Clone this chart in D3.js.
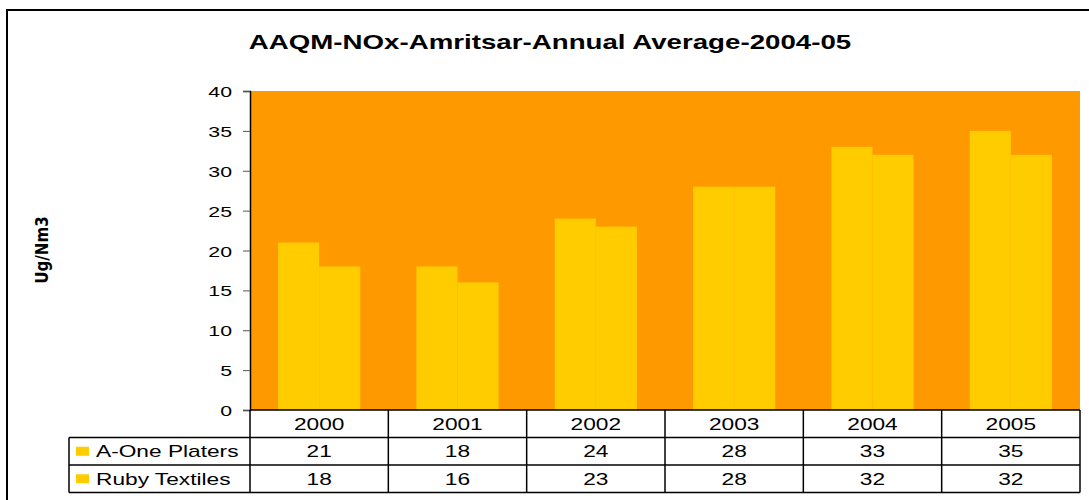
<!DOCTYPE html>
<html>
<head>
<meta charset='UTF-8'>
<title>AAQM-NOx-Amritsar</title>
<script src='https://cdnjs.cloudflare.com/ajax/libs/d3/7.8.5/d3.min.js'></script>
<style>
  body { margin: 0; background: #fff; }
  text { font-family: 'Liberation Sans', Arial, sans-serif; }
</style>
</head>
<body>
<div id='chart'></div>
<script>
var years = ['2000', '2001', '2002', '2003', '2004', '2005'];
var series = ['A-One Platers', 'Ruby Textiles'];
var aOne = [21, 18, 24, 28, 33, 35];
var ruby = [18, 16, 23, 28, 32, 32];
var yTicks = [0, 5, 10, 15, 20, 25, 30, 35, 40];
var values = [aOne, ruby];

var W = 1089, H = 500;
var plot = {left: 250, right: 1080, top: 91, bottom: 410};
var rowH = 27.5;
var labelLeft = 69;
var sx = 1.42; // the original text is drawn wide

// place a text at (x, y), stretched horizontally
function at(x, y) {
  return 'translate(' + x + ',' + y + ') scale(' + sx + ',1)';
}

var svg = d3.select('#chart').append('svg')
    .attr('width', W).attr('height', H);

// outer frame (cut off on the right and bottom)
svg.append('rect')
   .attr('x', 7).attr('y', 10)
   .attr('width', W + 20).attr('height', H + 20)
   .attr('fill', 'none').attr('stroke', '#000').attr('stroke-width', 2);

svg.append('text')
   .attr('transform', at(550, 49))
   .attr('text-anchor', 'middle')
   .style('font-size', '19.5px').style('font-weight', 'bold')
   .text('AAQM-NOx-Amritsar-Annual Average-2004-05');

var x0 = d3.scaleBand().domain(years).range([plot.left, plot.right]).padding(0);
var x1 = d3.scaleBand().domain(series).range([0, x0.bandwidth()])
    .paddingInner(0).paddingOuter(0.683);
var y = d3.scaleLinear().domain([0, 40]).range([plot.bottom, plot.top]);

svg.append('rect')
   .attr('x', plot.left).attr('y', plot.top)
   .attr('width', plot.right - plot.left).attr('height', plot.bottom - plot.top)
   .attr('fill', '#FF9900');

var groups = svg.selectAll('g.year')
    .data(years)
    .enter().append('g')
    .attr('class', 'year')
    .attr('transform', d => 'translate(' + x0(d) + ',0)');

groups.selectAll('rect')
    .data((d, i) => series.map((s, j) => ({s: s, v: values[j][i]})))
    .enter().append('rect')
    .attr('x', d => x1(d.s))
    .attr('y', d => y(d.v))
    .attr('width', x1.bandwidth())
    .attr('height', d => y(0) - y(d.v))
    .attr('fill', '#FFCC00');

var yAxis = svg.append('g')
   .attr('transform', 'translate(' + plot.left + ',0)')
   .call(d3.axisLeft(y).tickValues(yTicks).tickSize(7).tickPadding(0));
yAxis.select('.domain').attr('stroke', '#000').attr('stroke-width', 1.5);
yAxis.selectAll('.tick line').attr('stroke', '#555');
yAxis.selectAll('.tick text')
     .attr('x', null).attr('dy', null)
     .attr('transform', at(-18, 5.5))
     .style('font-size', '15px').style('font-family', "'Liberation Sans', Arial, sans-serif")
     .attr('fill', '#000');

svg.append('text')
   .attr('transform', 'translate(48,250) rotate(-90) scale(1.2,1.3)')
   .attr('text-anchor', 'middle')
   .style('font-size', '14px').style('font-weight', 'bold')
   .style('font-family', "'Liberation Sans Narrow', 'DejaVu Sans Condensed', sans-serif")
   .text('Ug/Nm3');

// data table below the plot
var table = svg.append('g');
var tTop = plot.bottom;
var line = (ax, ay, bx, by) => table.append('line')
    .attr('x1', ax).attr('y1', ay).attr('x2', bx).attr('y2', by)
    .attr('stroke', '#000').attr('stroke-width', 1.5);

line(plot.left, tTop, plot.right, tTop);
line(labelLeft, tTop + rowH, plot.right, tTop + rowH);
line(labelLeft, tTop + 2 * rowH, plot.right, tTop + 2 * rowH);
line(labelLeft, tTop + 3 * rowH, plot.right, tTop + 3 * rowH);
line(labelLeft, tTop + rowH, labelLeft, tTop + 3 * rowH);
years.forEach(yr => line(x0(yr), tTop, x0(yr), tTop + 3 * rowH));
line(plot.right, tTop, plot.right, tTop + 3 * rowH);

table.selectAll('text.year')
    .data(years)
    .enter().append('text')
    .attr('class', 'year')
    .attr('transform', d => at(x0(d) + x0.bandwidth() / 2, tTop + rowH / 2 + 6))
    .attr('text-anchor', 'middle')
    .style('font-size', '16px')
    .text(d => d);

series.forEach((s, j) => {
  var ry = tTop + (j + 1) * rowH;
  table.append('rect')
       .attr('x', labelLeft + 7).attr('y', ry + rowH / 2 - 4.5)
       .attr('width', 13).attr('height', 9)
       .attr('fill', '#FFCC00');
  table.append('text')
       .attr('transform', at(labelLeft + 27, ry + rowH / 2 + 6))
       .style('font-size', '16px')
       .text(s);
  table.selectAll('text.v' + j)
       .data(values[j])
       .enter().append('text')
       .attr('class', 'v' + j)
       .attr('transform', (d, i) => at(x0(years[i]) + x0.bandwidth() / 2, ry + rowH / 2 + 6))
       .attr('text-anchor', 'middle')
       .style('font-size', '16px')
       .text(d => d);
});
</script>
</body>
</html>
